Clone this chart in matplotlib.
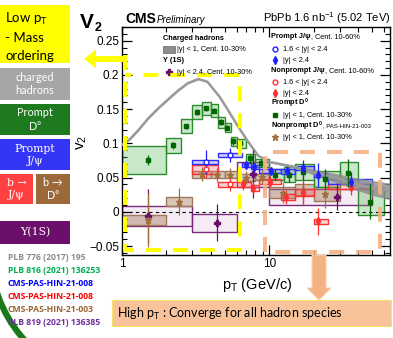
import numpy as np
import matplotlib.pyplot as plt
from matplotlib.patches import Rectangle, FancyArrow, Arc

plt.rcParams['font.family'] = ['Liberation Sans', 'DejaVu Sans']
plt.rcParams['mathtext.fontset'] = 'custom'
plt.rcParams['mathtext.rm'] = 'Liberation Sans'
plt.rcParams['mathtext.it'] = 'Liberation Sans:italic'
plt.rcParams['mathtext.bf'] = 'Liberation Sans:bold'

# ---- data ----
# charged hadrons, |y|<1, 10-30%  (band)
ch_pt = [1.0, 1.13, 1.3, 1.5, 1.8, 2.1, 2.4, 2.8, 3.3, 3.8, 4.6, 5.2, 6.0, 7.0, 8.4, 10, 14.6, 20, 30, 40, 50, 66]
ch_v2 = [0.098, 0.106, 0.120, 0.136, 0.153, 0.166, 0.177, 0.188, 0.194, 0.190, 0.168, 0.150, 0.128, 0.106, 0.082, 0.073, 0.066, 0.058, 0.048, 0.040, 0.035, 0.030]
ch_err = [0.001, 0.001, 0.001, 0.001, 0.001, 0.001, 0.001, 0.001, 0.001, 0.001, 0.001, 0.001, 0.001, 0.001, 0.001, 0.001, 0.002, 0.004, 0.007, 0.009, 0.011, 0.012]

# prompt D0, |y|<1, 10-30%
d0_pt = [1.5, 2.22, 2.72, 3.24, 3.73, 4.23, 4.72, 5.2, 5.7, 6.3, 7.4, 8.8, 11.0, 13.6, 17.0, 24.0, 34.0, 48.0]
d0_lo = [1, 2, 2.5, 3, 3.5, 4, 4.5, 5, 5.5, 6, 7, 8, 10, 12.5, 15, 20, 30, 40]
d0_hi = [2, 2.5, 3, 3.5, 4, 4.5, 5, 5.5, 6, 7, 8, 10, 12.5, 15, 20, 30, 40, 60]
d0_v2 = [0.076, 0.097, 0.125, 0.146, 0.151, 0.148, 0.131, 0.123, 0.103, 0.100, 0.078, 0.071, 0.054, 0.054, 0.058, 0.048, 0.057, 0.015]
d0_stat = [0.007, 0.005, 0.004, 0.004, 0.004, 0.004, 0.004, 0.004, 0.005, 0.005, 0.006, 0.006, 0.008, 0.010, 0.012, 0.014, 0.020, 0.025]
d0_sys = [0.020, 0.011, 0.010, 0.010, 0.010, 0.009, 0.008, 0.007, 0.007, 0.006, 0.006, 0.006, 0.008, 0.011, 0.012, 0.011, 0.016, 0.020]

# prompt J/psi, 10-60%
pjf_pt = [3.73, 5.4]
pjf_lo = [3.0, 4.5]
pjf_hi = [4.5, 6.5]
pjf_v2 = [0.073, 0.083]
pjf_stat = [0.018, 0.010]
pjf_sys = [0.003, 0.003]

pj_pt = [6.9, 7.9, 10.3, 13.2, 17.0, 21.5, 36.0]
pj_lo = [6.5, 7.5, 8.5, 12, 15, 20, 25]
pj_hi = [7.5, 8.5, 12, 15, 20, 25, 50]
pj_v2 = [0.069, 0.065, 0.060, 0.059, 0.064, 0.054, 0.044]
pj_stat = [0.006, 0.006, 0.006, 0.008, 0.012, 0.018, 0.014]
pj_sys = [0.003, 0.003, 0.003, 0.003, 0.003, 0.003, 0.0035]

# nonprompt J/psi, 10-60%
njf_pt = [3.73, 5.4]
njf_lo = [3.0, 4.5]
njf_hi = [4.5, 6.5]
njf_v2 = [0.062, 0.040]
njf_stat = [0.013, 0.010]
njf_sys = [0.006, 0.003]

nj_pt = [6.6, 7.8, 10.1, 13.0, 17.0, 21.5, 36.0]
nj_lo = [6.5, 7.5, 8.5, 12, 15, 20, 25]
nj_hi = [7.5, 8.5, 12, 15, 20, 25, 50]
nj_v2 = [0.040, 0.035, 0.044, 0.022, 0.028, -0.014, 0.037]
nj_stat = [0.008, 0.008, 0.008, 0.010, 0.016, 0.020, 0.012]
nj_sys = [0.004, 0.004, 0.004, 0.004, 0.005, 0.004, 0.004]

# nonprompt D0, |y|<1, 10-30%
nd_pt = [1.5, 2.45, 3.5, 4.45, 5.45, 7.0, 8.9, 12.3, 17.0, 24.0]
nd_lo = [1, 2, 3, 4, 5, 6, 8, 10, 15, 20]
nd_hi = [2, 3, 4, 5, 6, 8, 10, 15, 20, 30]
nd_v2 = [-0.012, 0.015, 0.055, 0.054, 0.054, 0.050, 0.051, 0.028, 0.032, 0.026]
nd_stat = [0.040, 0.020, 0.010, 0.010, 0.010, 0.010, 0.010, 0.015, 0.020, 0.020]
nd_sys = [0.007, 0.007, 0.005, 0.005, 0.005, 0.005, 0.005, 0.008, 0.008, 0.010]

# Upsilon(1S), |y|<2.4, 10-30%
ups_pt = [1.5, 4.4, 7.8, 29.0]
ups_lo = [1, 3, 6, 10]
ups_hi = [3, 6, 10, 50]
ups_v2 = [-0.006, -0.016, 0.055, 0.022]
ups_stat = [0.040, 0.027, 0.035, 0.020]
ups_sys = [0.015, 0.013, 0.018, 0.012]

refs = ['PLB 776 (2017) 195', 'PLB 816 (2021) 136253', 'CMS-PAS-HIN-21-008',
        'CMS-PAS-HIN-21-008', 'CMS-PAS-HIN-21-003', 'PLB 819 (2021) 136385']
ref_colors = ['#8c8c8c', '#00b050', '#0000ff', '#ff0000', '#996633', '#7030a0']

W, H = 393, 338
fig = plt.figure(figsize=(W / 100, H / 100), dpi=100)
fig.patch.set_facecolor('white')

ax = fig.add_axes([122 / W, 1 - 255 / H, 268 / W, 228 / H])
ax.set_xscale('log')
ax.set_xlim(1, 66)
ax.set_ylim(-0.063, 0.27)


def sysboxes(pt_lo, pt_hi, v2, sys, fc, ec, z=2):
    for lo, hi, v, s in zip(pt_lo, pt_hi, v2, sys):
        ax.add_patch(Rectangle((lo, v - s), hi - lo, 2 * s, facecolor=fc, edgecolor=ec,
                               linewidth=1.0, zorder=z))


# systematic boxes
sysboxes(ups_lo, ups_hi, ups_v2, ups_sys, (0.93, 0.85, 0.93, 0.5), '#7b2a7b', 1.5)
sysboxes(nd_lo, nd_hi, nd_v2, nd_sys, (0.66, 0.5, 0.38, 0.45), '#a0785a', 1.6)
sysboxes(d0_lo, d0_hi, d0_v2, d0_sys, (0.3, 0.7, 0.3, 0.3), '#2e8b2e', 1.7)
sysboxes(njf_lo, njf_hi, njf_v2, njf_sys, (1, 0.4, 0.4, 0.3), '#ff3030', 1.8)
sysboxes(nj_lo, nj_hi, nj_v2, nj_sys, (1, 0.4, 0.4, 0.3), '#ff3030', 1.8)
sysboxes(pjf_lo, pjf_hi, pjf_v2, pjf_sys, (0.4, 0.4, 1, 0.3), '#3030ff', 1.9)
sysboxes(pj_lo, pj_hi, pj_v2, pj_sys, (0.4, 0.4, 1, 0.3), '#3030ff', 1.9)

# charged hadron band
ch_pt_a = np.array(ch_pt)
ch_v2_a = np.array(ch_v2)
ch_err_a = np.array(ch_err)
ax.fill_between(ch_pt_a, ch_v2_a - ch_err_a, ch_v2_a + ch_err_a, color='#8a8a8a',
                alpha=0.8, linewidth=0, zorder=3)
ax.plot(ch_pt_a, ch_v2_a, color='#9a9a9a', linewidth=1.8, zorder=3)

ax.axhline(0, color='black', linestyle=(0, (3, 3)), linewidth=0.8, zorder=2.5)

eb = dict(capsize=0, elinewidth=0.9, linestyle='none', zorder=4)
ax.errorbar(ups_pt, ups_v2, yerr=ups_stat, marker='P', color='#6a0f6a', markersize=4.5, **eb)
ax.errorbar(nd_pt, nd_v2, yerr=nd_stat, marker='*', color='#a0703c', markersize=5, **eb)
ax.errorbar(d0_pt, d0_v2, yerr=d0_stat, marker='s', color='#006400', markersize=3.5, **eb)
ax.errorbar(njf_pt, njf_v2, yerr=njf_stat, marker='o', color='#ff3030', mfc='white',
            markersize=3.5, **eb)
ax.errorbar(nj_pt, nj_v2, yerr=nj_stat, marker='d', color='#ff3030', markersize=4, **eb)
ax.errorbar(pjf_pt, pjf_v2, yerr=pjf_stat, marker='o', color='#2020ff', mfc='white',
            markersize=3.5, **eb)
ax.errorbar(pj_pt, pj_v2, yerr=pj_stat, marker='d', color='#2020ff', markersize=4, **eb)

ax.set_yticks([-0.05, 0, 0.05, 0.1, 0.15, 0.2, 0.25])
ax.set_yticklabels(['\u22120.05', '0', '0.05', '0.1', '0.15', '0.2', '0.25'])
ax.yaxis.set_minor_locator(plt.MultipleLocator(0.01))
ax.set_xticks([1, 10])
ax.set_xticklabels(['1', '10'])
ax.tick_params(which='both', direction='in', top=True, right=True, labelsize=8.5, pad=2)
ax.tick_params(which='major', length=7, width=0.9)
ax.tick_params(which='minor', length=3.5, width=0.8)
for s in ax.spines.values():
    s.set_linewidth(1.0)

# ---- overlay in figure pixel coordinates ----
ov = fig.add_axes([0, 0, 1, 1], zorder=10)
ov.set_xlim(0, W)
ov.set_ylim(H, 0)
ov.axis('off')
ov.patch.set_alpha(0)

# titles
ov.text(80, 28, 'V', fontsize=15, fontweight='bold', va='baseline')
ov.text(95, 31, '2', fontsize=9, fontweight='bold', va='baseline')
ov.text(125, 23, 'CMS', fontsize=10, fontweight='bold', va='baseline')
ov.text(157, 23, 'Preliminary', fontsize=7, style='italic', va='baseline')
ov.text(390, 22, r'PbPb 1.6 nb$^{-1}$ (5.02 TeV)', fontsize=8, ha='right', va='baseline')
ov.text(82, 142, r'v$_2$', fontsize=11, rotation=90, ha='center', va='center')
ov.text(257, 285, r'p$_\mathrm{T}$ (GeV/c)', fontsize=10.5, ha='center', va='center')

# legend, left block
lf = 5.3
ov.text(163, 38, 'Charged hadrons', fontsize=lf, fontweight='bold', va='center')
ov.add_patch(Rectangle((163, 45.5), 12, 7, facecolor='#8f8f8f', edgecolor='#666666', lw=0.5))
ov.text(177, 49.5, '|y| < 1, Cent. 10-30%', fontsize=lf, va='center')
ov.text(163, 61, '\u03a5 (1S)', fontsize=lf, fontweight='bold', va='center')
ov.plot([169], [72], marker='P', color='#6a0f6a', markersize=4.5, linestyle='none')
ov.text(177, 72.5, '|y| < 2.4, Cent. 10-30%', fontsize=lf, va='center')


# legend, right block
def head(y, bold, rest, rest_size=lf):
    t = ov.text(271, y, bold, fontsize=lf, fontweight='bold', va='center')
    ov.annotate(rest, xy=(1, 0.5), xycoords=t, fontsize=rest_size, va='center', ha='left')


head(37, 'Prompt J/\u03c8', ', Cent. 10-60%')
ov.plot([275], [49], marker='o', mfc='white', mec='#2020ff', mew=1.0, markersize=3.5)
ov.text(283, 49.5, '1.6 < |y| < 2.4', fontsize=lf, va='center')
ov.plot([275], [60], marker='d', color='#2020ff', markersize=4)
ov.text(283, 60.5, '|y| < 2.4', fontsize=lf, va='center')
head(71, 'Nonprompt J/\u03c8', ', Cent. 10-60%')
ov.plot([275], [82], marker='o', mfc='white', mec='#ff3030', mew=1.0, markersize=3.5)
ov.text(283, 82.5, '1.6 < |y| < 2.4', fontsize=lf, va='center')
ov.plot([275], [93], marker='d', color='#ff3030', markersize=4)
ov.text(283, 93.5, '|y| < 2.4', fontsize=lf, va='center')
ov.text(271, 103, r'Prompt D$^\mathbf{0}$', fontsize=lf, fontweight='bold', va='center')
ov.plot([275], [115], marker='s', color='#006400', markersize=3.5)
ov.text(283, 115.5, '|y| < 1, Cent. 10-30%', fontsize=lf, va='center')
head(126, r'Nonprompt D$^\mathbf{0}$', ', PAS-HIN-21-003', 4.3)
ov.plot([275], [137], marker='*', color='#a0703c', markersize=5)
ov.text(283, 137.5, '|y| < 1, Cent. 10-30%', fontsize=lf, va='center')

# dashed highlight regions
yl = '#ffff00'
ov.plot([125, 125, 240, 240, 125], [55, 250, 250, 75, 75], color=yl, lw=2.9,
        dashes=(3.7, 3.0), solid_capstyle='butt')
orn = '#f4b183'
ov.plot([265, 265, 380, 380, 265], [252, 152, 152, 252, 252], color=orn, lw=2.9,
        dashes=(3.7, 3.0), alpha=0.9)

# arrows
ov.add_patch(FancyArrow(125, 59, -41, 0, width=6, head_width=19, head_length=12,
                        length_includes_head=True, color=yl, lw=0))
ov.add_patch(FancyArrow(319, 255, 0, 45, width=14, head_width=24, head_length=12,
                        length_includes_head=True, facecolor=orn, edgecolor='#f8cfae', lw=0.8))

# left side label boxes
tf = ['Lato', 'DejaVu Sans']
ov.add_patch(Rectangle((0, 5), 70, 58, facecolor='#ffff00', lw=0))
ov.text(5, 19, r'Low p$\mathregular{_T}$', fontsize=9.5, family=tf, va='center')
ov.text(5, 38, '- Mass', fontsize=9.5, family=tf, va='center')
ov.text(5, 56, 'ordering', fontsize=9.5, family=tf, va='center')

boxes = [((0, 68), 70, 32, '#a6a6a6', 'charged\nhadrons'),
         ((0, 104), 70, 31, '#1e7a1e', 'Prompt\nD\u2070'),
         ((0, 139), 70, 31, '#3535f5', 'Prompt\nJ/\u03c8'),
         ((0, 174), 33, 30, '#ff4040', 'b \u2192\nJ/\u03c8'),
         ((36, 174), 34, 30, '#9c6a3a', 'b \u2192\nD\u2070'),
         ((0, 221), 70, 23, '#6b0f6b', '\u03a5(1S)')]
for (x0, y0), w, h, c, lab in boxes:
    ov.add_patch(Rectangle((x0, y0), w, h, facecolor=c, lw=0))
    fam = ['DejaVu Serif'] if ('J' in lab or '\u03a5' in lab) else tf
    ov.text(x0 + w / 2, y0 + h / 2, lab, fontsize=7.8, family=fam,
            color='white', ha='center', va='center', linespacing=1.25)

for i, (r, c) in enumerate(zip(refs, ref_colors)):
    ov.text(8, 258 + i * 12.9, r, fontsize=6.2, fontweight='bold', family=['Open Sans', 'DejaVu Sans'],
            color=c, va='center')

ov.add_patch(Arc((125, 250), 270, 270, theta1=130, theta2=170, color='#1a7a1a', lw=4.5))

# bottom comment box
ov.add_patch(Rectangle((112, 300), 279, 26, facecolor='#f8c39b', edgecolor='#f2e36a', lw=0.8))
ov.text(117, 313.5, r'High p$\mathregular{_T}$ : Converge for all hadron species', fontsize=9,
        family=tf, va='center')

fig.savefig('out.png', dpi=100)
